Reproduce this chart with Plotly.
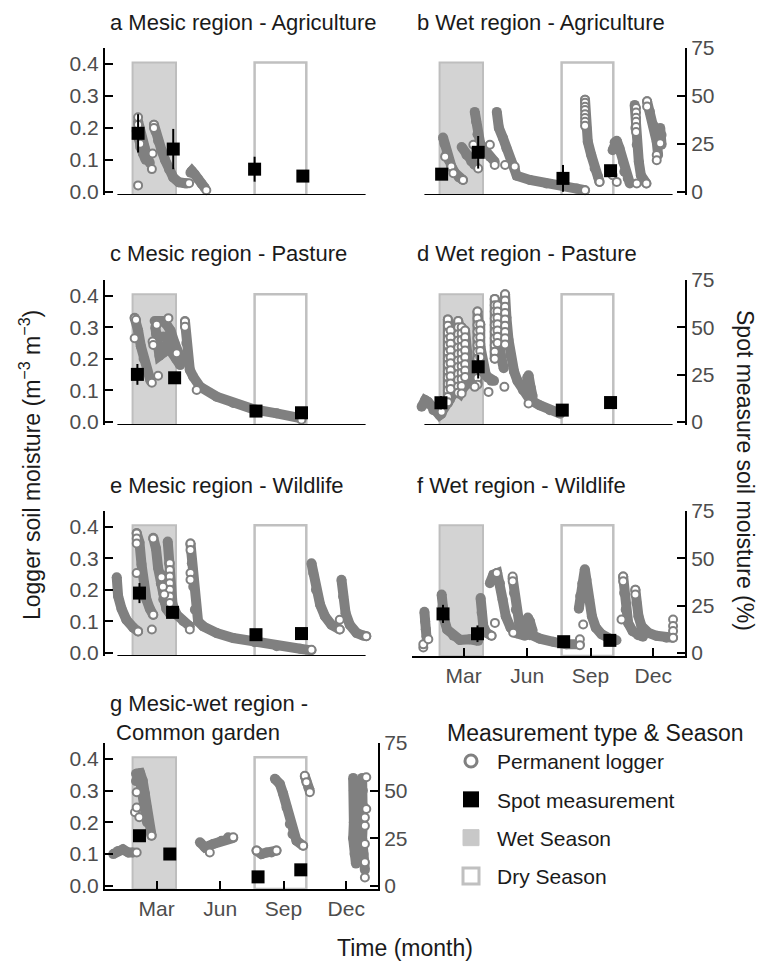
import plotly.graph_objects as go

# ---------------- shared scale / label data ----------------
month_ticks = [60, 152, 244, 335]
month_labels = ["Mar", "Jun", "Sep", "Dec"]
logger_ticks = [0.0, 0.1, 0.2, 0.3, 0.4]
spot_ticks = [0, 25, 50, 75]
wet_season = [25, 88]
dry_season = [202, 277]
season_top = 0.405
x_range = [-15, 381]
axis_span = [3, 363]
logger_range = [-0.01, 0.45]
pct_per_logger_unit = 1 / 0.006   # right (spot %) axis vs left (m3 m-3) axis

panel_titles = [
    "a Mesic region - Agriculture",
    "b Wet region - Agriculture",
    "c Mesic region - Pasture",
    "d Wet region - Pasture",
    "e Mesic region - Wildlife",
    "f Wet region - Wildlife",
    "g Mesic-wet region -<br>\u00a0Common garden",
]

# ---------------- panel a ----------------
a_logger_days = [[33, 35, 38, 42, 46, 50],
                 [31, 33, 36, 40, 44],
                 [56, 58, 62, 67, 72, 78, 84, 92, 100, 104],
                 [109, 111, 115, 120, 125, 130]]
a_logger_vals = [[0.22, 0.20, 0.17, 0.14, 0.11, 0.09],
                 [0.19, 0.17, 0.14, 0.12, 0.10],
                 [0.21, 0.19, 0.16, 0.13, 0.10, 0.07, 0.045, 0.03, 0.027, 0.026],
                 [0.06, 0.065, 0.055, 0.04, 0.025, 0.012]]
a_circle_days = [33, 33, 36, 56, 56, 54, 53, 33, 107, 132]
a_circle_vals = [0.233, 0.21, 0.15, 0.21, 0.20, 0.12, 0.071, 0.02, 0.027, 0.005]
a_spot_days = [33, 84, 202, 272]
a_spot_pct = [30.5, 22.3, 11.8, 8.2]
a_spot_err = [10, 10.5, 6.5, 0]

# ---------------- panel b ----------------
b_logger_days = [[30, 32, 35, 38, 42, 47, 53, 59],
                 [57, 64, 71, 76],
                 [76, 78, 80, 84, 91, 98, 105],
                 [108, 111, 117, 122, 129, 134, 137, 156, 180, 204, 224, 236],
                 [236, 238, 240, 245, 250, 255, 257],
                 [276, 279, 282, 286, 291, 293, 298, 301],
                 [308, 309, 311, 314, 317, 325],
                 [326, 330, 335, 340, 342],
                 [345, 347, 347]]
b_logger_vals = [[0.17, 0.15, 0.12, 0.10, 0.08, 0.06, 0.045, 0.037],
                 [0.14, 0.115, 0.095, 0.084],
                 [0.25, 0.22, 0.18, 0.15, 0.13, 0.11, 0.094],
                 [0.25, 0.20, 0.168, 0.136, 0.094, 0.073, 0.05, 0.037, 0.026, 0.018, 0.010, 0.005],
                 [0.288, 0.20, 0.157, 0.115, 0.073, 0.047, 0.031],
                 [0.13, 0.155, 0.16, 0.136, 0.094, 0.063, 0.042, 0.026],
                 [0.272, 0.20, 0.147, 0.094, 0.052, 0.026],
                 [0.283, 0.251, 0.209, 0.157, 0.115],
                 [0.20, 0.178, 0.147]]
b_circle_days = [33, 42, 45, 59, 74, 81, 98, 105, 120, 134,
                 236, 236, 236, 236, 236, 236, 236, 236, 236, 257, 276, 282,
                 310, 310, 310, 310, 310, 310, 311, 325, 340, 340, 345, 326, 326]
b_circle_vals = [0.110, 0.079, 0.058, 0.037, 0.147, 0.073, 0.147, 0.084, 0.084, 0.079,
                 0.288, 0.279, 0.266, 0.256, 0.243, 0.231, 0.219, 0.207, 0.005, 0.031, 0.052, 0.031,
                 0.262, 0.248, 0.232, 0.219, 0.203, 0.187, 0.026, 0.026, 0.115, 0.099, 0.152, 0.283, 0.267]
b_spot_days = [28, 81, 204, 273]
b_spot_pct = [9.2, 20.6, 7.0, 11.0]
b_spot_err = [2, 8.5, 7, 0]

# ---------------- panel c ----------------
c_logger_days = [[28, 30, 33, 37, 41, 46, 51],
                 [57, 62, 68, 74, 80, 86, 92, 97],
                 [58, 60, 64, 70, 76, 82, 88, 94],
                 [59, 64, 70, 76, 82, 88],
                 [101, 103, 105, 108, 113, 123, 147, 171, 202, 234, 270]]
c_logger_vals = [[0.33, 0.32, 0.29, 0.24, 0.20, 0.16, 0.13],
                 [0.32, 0.32, 0.32, 0.31, 0.29, 0.25, 0.21, 0.19],
                 [0.30, 0.24, 0.21, 0.22, 0.25, 0.22, 0.20, 0.18],
                 [0.28, 0.27, 0.27, 0.27, 0.25, 0.23],
                 [0.32, 0.25, 0.20, 0.165, 0.143, 0.111, 0.080, 0.060, 0.039, 0.027, 0.011]]
c_circle_days = [28, 28, 30, 53, 54, 55, 60, 62, 77, 89, 101, 101, 118, 202, 270]
c_circle_vals = [0.265, 0.329, 0.324, 0.124, 0.255, 0.244, 0.308, 0.146, 0.329, 0.218,
                 0.318, 0.302, 0.101, 0.037, 0.007]
c_spot_days = [32, 86, 204, 270]
c_spot_pct = [25.1, 23.3, 5.7, 4.8]
c_spot_err = [5.5, 1.5, 0, 0]

# ---------------- panel d ----------------
d_logger_days = [[-1, 4, 8, 16, 25, 28],
                 [28, 33, 37, 40, 45, 50, 55, 60, 65, 70, 75, 80, 85, 90, 95, 100, 104],
                 [37, 37, 39, 41, 44, 48, 52],
                 [52, 52, 54, 57, 60, 63],
                 [62, 62, 65, 68, 72],
                 [80, 80, 82, 84, 87, 92],
                 [105, 105, 107, 109, 111, 114, 118],
                 [120, 120, 122, 125, 128, 133, 138, 146, 156, 170, 185, 200],
                 [150, 152, 154, 157, 160],
                 [41, 41], [57, 57], [84, 84], [109, 109]]
d_logger_vals = [[0.048, 0.069, 0.064, 0.037, 0.021, 0.026],
                 [0.03, 0.05, 0.06, 0.07, 0.09, 0.10, 0.09, 0.11, 0.12, 0.13, 0.14, 0.15, 0.16, 0.15, 0.14, 0.13, 0.13],
                 [0.06, 0.325, 0.30, 0.24, 0.17, 0.12, 0.10],
                 [0.09, 0.32, 0.30, 0.22, 0.16, 0.12],
                 [0.14, 0.29, 0.22, 0.16, 0.13],
                 [0.12, 0.35, 0.30, 0.24, 0.19, 0.15],
                 [0.20, 0.39, 0.38, 0.34, 0.27, 0.21, 0.17],
                 [0.245, 0.405, 0.33, 0.26, 0.21, 0.16, 0.13, 0.10, 0.07, 0.053, 0.037, 0.026],
                 [0.10, 0.14, 0.148, 0.11, 0.08],
                 [0.10, 0.29], [0.11, 0.30], [0.20, 0.31], [0.25, 0.37]]
d_circle_days = [37, 37, 37, 37, 37, 37, 37, 37, 37, 37, 37, 37, 37, 37,
                 41, 41, 41, 41, 41, 41, 41, 41, 41, 41,
                 52, 52, 52, 52, 52, 52, 52, 52, 52, 52, 52, 52,
                 57, 57, 57, 57, 57, 57, 57, 57, 57, 57,
                 62, 62, 62, 62, 62, 62, 62, 62,
                 80, 80, 80, 80, 80, 80, 80, 80, 80, 80, 80, 80,
                 84, 84, 84, 84, 84, 84,
                 105, 105, 105, 105, 105, 105, 105, 105, 105, 105,
                 109, 109, 109, 109, 109, 109, 109,
                 120, 120, 120, 120, 120, 120, 120, 120, 120,
                 28, 57, 76, 96, 119, 154, 203]
d_circle_vals = [0.325, 0.305, 0.283, 0.262, 0.243, 0.221, 0.2, 0.182, 0.16, 0.141, 0.12, 0.1, 0.079, 0.062,
                 0.29, 0.268, 0.248, 0.227, 0.205, 0.186, 0.164, 0.145, 0.122, 0.104,
                 0.32, 0.3, 0.278, 0.258, 0.236, 0.215, 0.195, 0.174, 0.152, 0.133, 0.112, 0.092,
                 0.30, 0.28, 0.26, 0.238, 0.218, 0.197, 0.176, 0.155, 0.135, 0.114,
                 0.29, 0.268, 0.247, 0.226, 0.205, 0.183, 0.163, 0.142,
                 0.35, 0.328, 0.307, 0.286, 0.265, 0.243, 0.222, 0.2, 0.18, 0.16, 0.139, 0.118,
                 0.31, 0.29, 0.268, 0.247, 0.225, 0.205,
                 0.39, 0.37, 0.35, 0.328, 0.307, 0.286, 0.265, 0.243, 0.222, 0.2,
                 0.37, 0.35, 0.33, 0.31, 0.29, 0.27, 0.25,
                 0.405, 0.385, 0.365, 0.345, 0.325, 0.305, 0.285, 0.265, 0.245,
                 0.032, 0.09, 0.111, 0.095, 0.111, 0.058, 0.032]
d_spot_days = [27, 81, 203, 273]
d_spot_pct = [10.1, 29.1, 6.2, 10.2]
d_spot_err = [3.5, 6.2, 0, 1.5]

# ---------------- panel e ----------------
e_logger_days = [[2, 4, 9, 16, 26, 33],
                 [31, 35, 38, 41.5, 45, 50, 55],
                 [55, 59, 62, 66, 69.5, 74, 79],
                 [66, 68, 70, 72],
                 [76, 78, 80, 83, 89, 98.5, 108],
                 [109, 111, 113, 115.4, 120, 127.5, 147, 171, 202, 234, 268, 284.5],
                 [284.5, 287, 291, 297, 304, 313.5, 325.5],
                 [328, 330.4, 334, 340, 350, 359, 364]]
e_logger_vals = [[0.24, 0.18, 0.14, 0.105, 0.08, 0.068],
                 [0.38, 0.35, 0.28, 0.22, 0.17, 0.14, 0.12],
                 [0.365, 0.33, 0.27, 0.22, 0.17, 0.14, 0.125],
                 [0.25, 0.22, 0.19, 0.16],
                 [0.353, 0.284, 0.21, 0.153, 0.121, 0.10, 0.084],
                 [0.347, 0.284, 0.21, 0.137, 0.10, 0.084, 0.063, 0.047, 0.034, 0.021, 0.013, 0.008],
                 [0.284, 0.253, 0.20, 0.153, 0.116, 0.089, 0.074],
                 [0.232, 0.179, 0.126, 0.089, 0.063, 0.055, 0.053]]
e_circle_days = [31, 31, 31, 31, 33, 55, 53, 55,
                 79, 79, 79, 79, 79, 79, 79, 67, 69, 71,
                 109, 109, 109, 109, 108, 284.5, 325.5, 325.5, 364]
e_circle_vals = [0.379, 0.363, 0.347, 0.253, 0.068, 0.121, 0.074, 0.363,
                 0.284, 0.263, 0.242, 0.221, 0.2, 0.179, 0.158, 0.24, 0.21, 0.185,
                 0.347, 0.326, 0.253, 0.232, 0.074, 0.01, 0.074, 0.105, 0.053]
e_spot_days = [35, 83, 204, 270]
e_spot_pct = [31.6, 21.4, 9.6, 10.2]
e_spot_err = [5.3, 2, 0, 0]

# ---------------- panel f ----------------
f_logger_days = [[3, 4, 5, 6],
                 [28, 29.4, 31.8, 36, 45, 54.5, 69, 81],
                 [84.5, 86, 88.4, 93, 100.4],
                 [98, 103, 108.7, 112.5, 116.4, 121, 128, 136.7, 148.8],
                 [131, 133, 135.7, 140.5, 146.3, 156, 170.5, 190, 209, 228.5],
                 [150, 153, 156, 160],
                 [227, 229, 232, 235.7, 238, 242, 246, 251.6, 260, 272, 281.6],
                 [291.3, 292.7, 295, 298.5, 305, 313, 320],
                 [309, 310.6, 313.5, 317.8, 327.5, 339.6, 354, 363.7]]
f_logger_vals = [[0.13, 0.10, 0.075, 0.05],
                 [0.185, 0.148, 0.106, 0.074, 0.054, 0.041, 0.043, 0.038],
                 [0.174, 0.127, 0.085, 0.064, 0.054],
                 [0.221, 0.248, 0.253, 0.221, 0.169, 0.116, 0.08, 0.062, 0.054],
                 [0.237, 0.19, 0.137, 0.095, 0.069, 0.056, 0.045, 0.035, 0.027, 0.027],
                 [0.09, 0.112, 0.10, 0.07],
                 [0.14, 0.18, 0.22, 0.265, 0.232, 0.169, 0.116, 0.08, 0.059, 0.045, 0.04],
                 [0.242, 0.19, 0.137, 0.095, 0.069, 0.056, 0.051],
                 [0.20, 0.158, 0.116, 0.085, 0.064, 0.054, 0.048, 0.048]]
f_circle_days = [1.4, 1.4, 8.7, 100.4, 105.3, 108, 131, 131, 131.8, 228.5, 228.5, 233.3,
                 288.9, 291.3, 291.3, 309, 309, 363.7, 363.7, 363.7, 363.7]
f_circle_vals = [0.017, 0.027, 0.043, 0.054, 0.095, 0.253, 0.242, 0.227, 0.064, 0.043, 0.024, 0.09,
                 0.106, 0.242, 0.227, 0.2, 0.185, 0.106, 0.085, 0.069, 0.048]
f_spot_days = [30, 80, 205, 272]
f_spot_pct = [20.6, 10.1, 5.9, 6.6]
f_spot_err = [4.8, 4.4, 0, 0]

# ---------------- panel g ----------------
g_logger_days = [[-3, 4, 11, 19, 26],
                 [30, 36, 39.6, 43, 45.4, 47.8, 51.2, 52.6],
                 [30, 33, 36, 39, 42, 46],
                 [122.7, 130, 142, 154, 163.7, 171],
                 [204.8, 212, 219.3, 226.5, 233.8],
                 [231.4, 238.6, 243.4, 248.3, 253.1, 257, 262.8, 272.4],
                 [275, 277, 280, 282],
                 [345, 346, 347, 346, 345, 347, 349],
                 [358, 359, 360, 359, 358, 360, 362],
                 [350, 352, 353]]
g_logger_vals = [[0.10, 0.11, 0.115, 0.105, 0.105],
                 [0.353, 0.355, 0.332, 0.29, 0.247, 0.205, 0.168, 0.158],
                 [0.33, 0.34, 0.33, 0.30, 0.26, 0.20],
                 [0.137, 0.121, 0.132, 0.142, 0.153, 0.151],
                 [0.111, 0.10, 0.105, 0.105, 0.111],
                 [0.337, 0.321, 0.29, 0.247, 0.195, 0.163, 0.142, 0.126],
                 [0.345, 0.33, 0.31, 0.30],
                 [0.34, 0.30, 0.25, 0.20, 0.15, 0.10, 0.07],
                 [0.34, 0.30, 0.25, 0.20, 0.15, 0.10, 0.05],
                 [0.22, 0.18, 0.14]]
g_circle_days = [31, 31, 28.5, 34.7, 31, 52.6, 137, 171, 204.8, 233.8, 272.4, 274.8, 277.2, 282.1,
                 364, 364, 362, 362, 362, 362, 362]
g_circle_vals = [0.105, 0.295, 0.232, 0.216, 0.247, 0.158, 0.105, 0.153, 0.111, 0.111, 0.126, 0.347, 0.326, 0.295,
                 0.342, 0.242, 0.189, 0.132, 0.074, 0.026, 0.215]
g_spot_days = [35, 79, 207, 269]
g_spot_pct = [26.3, 16.7, 4.7, 8.4]
g_spot_err = [0, 0, 0, 0]

legend_names = ["Permanent logger", "Spot measurement", "Wet Season", "Dry Season"]

# ---------------- assemble ----------------
logger_days = [a_logger_days, b_logger_days, c_logger_days, d_logger_days, e_logger_days, f_logger_days, g_logger_days]
logger_vals = [a_logger_vals, b_logger_vals, c_logger_vals, d_logger_vals, e_logger_vals, f_logger_vals, g_logger_vals]
circle_days = [a_circle_days, b_circle_days, c_circle_days, d_circle_days, e_circle_days, f_circle_days, g_circle_days]
circle_vals = [a_circle_vals, b_circle_vals, c_circle_vals, d_circle_vals, e_circle_vals, f_circle_vals, g_circle_vals]
spot_days = [a_spot_days, b_spot_days, c_spot_days, d_spot_days, e_spot_days, f_spot_days, g_spot_days]
spot_pct = [a_spot_pct, b_spot_pct, c_spot_pct, d_spot_pct, e_spot_pct, f_spot_pct, g_spot_pct]
spot_err = [a_spot_err, b_spot_err, c_spot_err, d_spot_err, e_spot_err, f_spot_err, g_spot_err]

W, H = 772, 962
GRAY = "#808080"
TICKGRAY = "#4d4d4d"
FONT = "Liberation Sans, Arial, Helvetica, sans-serif"

col = [0, 1, 0, 1, 0, 1, 0]
row = [0, 0, 1, 1, 2, 2, 3]
show_left = [True, False, True, False, True, False, True]
show_right = [False, True, False, True, False, True, True]
show_months = [False, False, False, False, False, True, True]

x_px = [(105, 378), (412, 685)]
y_px = [(48, 195), (280, 425), (511, 656), (743, 889)]
x_dom = [[a / W, b / W] for a, b in x_px]
y_dom = [[1 - b / H, 1 - a / H] for a, b in y_px]
spot_range = [r * pct_per_logger_unit for r in logger_range]

fig = go.Figure()


def ax_names(n):
    xa = "x" if n == 1 else f"x{n}"
    ya = "y" if n == 1 else f"y{n}"
    return xa, ya, f"y{n + 7}"


# logger bands
for i in range(7):
    xa, ya, yr = ax_names(i + 1)
    xs, ys = [], []
    for d, v in zip(logger_days[i], logger_vals[i]):
        xs += list(d) + [None]
        ys += list(v) + [None]
    fig.add_trace(go.Scatter(x=xs, y=ys, xaxis=xa, yaxis=ya, mode="lines+markers",
                             line=dict(color=GRAY, width=10), marker=dict(size=10, color=GRAY),
                             showlegend=False, hoverinfo="skip"))
# visible logger circles
for i in range(7):
    xa, ya, yr = ax_names(i + 1)
    fig.add_trace(go.Scatter(x=circle_days[i], y=circle_vals[i], xaxis=xa, yaxis=ya, mode="markers",
                             marker=dict(symbol="circle", size=8, color="white",
                                         line=dict(color=GRAY, width=2)),
                             cliponaxis=False, showlegend=False, hoverinfo="skip"))
# spot measurements on the % axis
for i in range(7):
    xa, ya, yr = ax_names(i + 1)
    fig.add_trace(go.Scatter(x=spot_days[i], y=spot_pct[i], xaxis=xa, yaxis=yr, mode="markers",
                             marker=dict(symbol="square", size=13, color="black"),
                             error_y=dict(type="data", array=spot_err[i], color="black", thickness=2, width=0),
                             cliponaxis=False, showlegend=False, hoverinfo="skip"))

# legend keys
legend_markers = [
    dict(symbol="circle", size=12, color="white", line=dict(color=GRAY, width=3)),
    dict(symbol="square", size=16, color="black", line=dict(color="black", width=0)),
    dict(symbol="square", size=16, color="#c8c8c8", line=dict(color="#c8c8c8", width=1)),
    dict(symbol="square", size=16, color="white", line=dict(color="#c0c0c0", width=3)),
]
for k, (name, mk) in enumerate(zip(legend_names, legend_markers)):
    fig.add_trace(go.Scatter(x=[None], y=[None], mode="markers", name=name, marker=mk,
                             legendgroup=f"g{k}", showlegend=True))

layout = dict(width=W, height=H, margin=dict(l=0, r=0, t=0, b=0, autoexpand=False),
              paper_bgcolor="white", plot_bgcolor="rgba(0,0,0,0)",
              font=dict(family=FONT, color="#1a1a1a", size=21))
shapes = []
annotations = []
for i in range(7):
    n = i + 1
    xa, ya, yr = ax_names(n)
    xk = "xaxis" if n == 1 else f"xaxis{n}"
    yk = "yaxis" if n == 1 else f"yaxis{n}"
    rk = f"yaxis{n + 7}"
    tickfont = dict(size=21, color=TICKGRAY, family=FONT)
    layout[xk] = dict(domain=x_dom[col[i]], range=x_range, anchor=ya, showgrid=False, zeroline=False,
                      showline=show_months[i], linecolor="black", linewidth=2,
                      ticks="inside" if show_months[i] else "", tickvals=month_ticks, ticktext=month_labels,
                      ticklen=8, tickwidth=2, tickcolor="black", showticklabels=show_months[i],
                      tickfont=tickfont, fixedrange=True, automargin=False)
    layout[yk] = dict(domain=y_dom[row[i]], range=logger_range, anchor=xa, visible=show_left[i],
                      showgrid=False, zeroline=False, showline=True, linecolor="black", linewidth=2,
                      ticks="inside", tickvals=logger_ticks, tickformat=".1f", ticklen=8, tickwidth=2,
                      tickcolor="black", tickfont=tickfont, fixedrange=True, automargin=False)
    layout[rk] = dict(overlaying=ya, side="right", anchor=xa, range=spot_range, visible=show_right[i],
                      showgrid=False, zeroline=False, showline=True, linecolor="black", linewidth=2,
                      ticks="inside", tickvals=spot_ticks, ticklen=8, tickwidth=2, tickcolor="black",
                      tickfont=tickfont, fixedrange=True, automargin=False)
    shapes.append(dict(type="rect", xref=xa, yref=ya, x0=wet_season[0], x1=wet_season[1],
                       y0=logger_range[0], y1=season_top, fillcolor="#d3d3d3",
                       line=dict(color="#bebebe", width=2), layer="below"))
    shapes.append(dict(type="rect", xref=xa, yref=ya, x0=dry_season[0], x1=dry_season[1],
                       y0=logger_range[0], y1=season_top, fillcolor="rgba(0,0,0,0)",
                       line=dict(color="#c0c0c0", width=2.5), layer="below"))
    if not show_months[i]:
        shapes.append(dict(type="line", xref=xa, yref=ya, x0=axis_span[0], x1=axis_span[1],
                           y0=logger_range[0], y1=logger_range[0], line=dict(color="black", width=2)))

title_x = [108, 415]
title_y = [22, 22, 253, 253, 485, 485, 718]
for i in range(7):
    annotations.append(dict(text=panel_titles[i], xref="paper", yref="paper",
                            x=title_x[col[i]] / W, y=1 - title_y[i] / H, xanchor="left", yanchor="middle",
                            align="left", showarrow=False, font=dict(size=22, color="#1a1a1a")))

annotations.append(dict(text="Logger soil moisture (m<sup>\u22123</sup> m<sup>\u22123</sup>)",
                        xref="paper", yref="paper", x=30 / W, y=1 - 465 / H, textangle=-90,
                        xanchor="center", yanchor="middle", showarrow=False, font=dict(size=23)))
annotations.append(dict(text="Spot measure soil moisture (%)", xref="paper", yref="paper",
                        x=745 / W, y=1 - 470 / H, textangle=90, xanchor="center", yanchor="middle",
                        showarrow=False, font=dict(size=23)))
annotations.append(dict(text="Time (month)", xref="paper", yref="paper", x=405 / W, y=1 - 948 / H,
                        xanchor="center", yanchor="middle", showarrow=False, font=dict(size=23)))

layout["shapes"] = shapes
layout["annotations"] = annotations
layout["legend"] = dict(x=445 / W, y=1 - 711 / H, xanchor="left", yanchor="top",
                        title=dict(text="Measurement type & Season", font=dict(size=23)),
                        font=dict(size=21), bgcolor="rgba(0,0,0,0)", tracegroupgap=8,
                        itemsizing="trace", itemwidth=42)
fig.update_layout(**layout)
fig.write_html("out.html")
